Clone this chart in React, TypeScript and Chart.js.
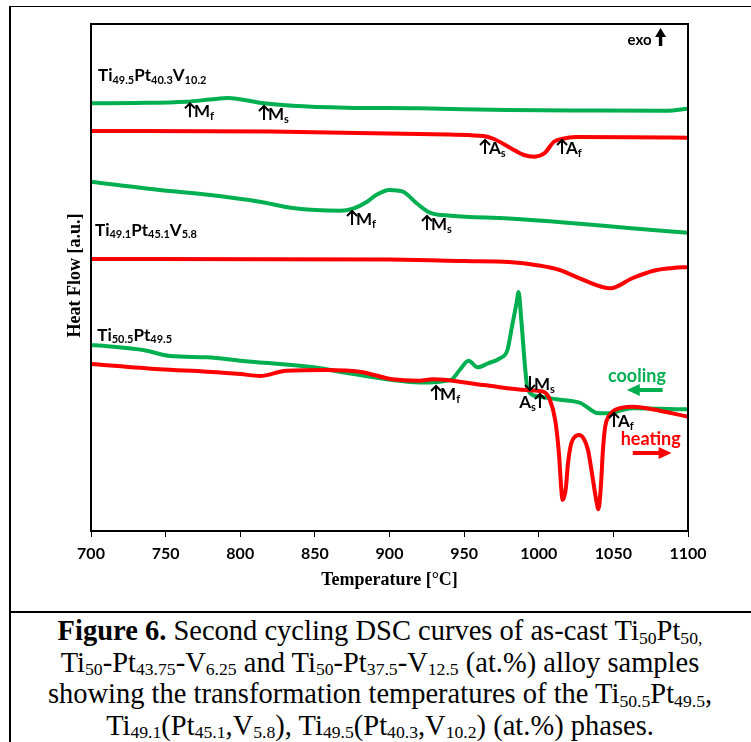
import React, { useEffect, useRef } from "react";
import { Chart, registerables } from "chart.js";
Chart.register(...registerables);

// ---- Data (Temperature °C, Heat flow a.u.) ----
const xTickStep = 50;
const xMin = 700;
const xMax = 1100;

// Ti49.5Pt40.3V10.2
const v10CoolT = [700, 730, 764, 780, 792, 805, 813, 835, 871, 920, 979, 1040, 1086, 1100];
const v10CoolHF = [427.7, 428, 429.3, 431.5, 433, 430.5, 428.3, 425.3, 423.3, 422.7, 421, 420.5, 420.3, 422.3];
const v10HeatT = [700, 820, 920, 963, 970, 981, 990, 997, 1004, 1010, 1016, 1025, 1060, 1100];
const v10HeatHF = [400, 399.5, 397, 395, 392, 383, 376, 374.3, 378, 389, 392.3, 394, 393.8, 393.3];

// Ti49.1Pt45.1V5.8
const v58CoolT = [700, 746, 780, 813, 835, 867, 876, 885, 891, 900, 909, 918, 927, 941, 980, 1019, 1060, 1100];
const v58CoolHF = [349.3, 341, 336, 329.3, 323, 320.3, 322.7, 329.3, 336, 341, 339.3, 328, 318.3, 315.3, 312.5, 308.3, 303, 298.3];
const v58HeatT = [700, 900, 950, 980, 1000, 1014, 1030, 1048, 1063, 1077, 1090, 1100];
const v58HeatHF = [272, 271.5, 270, 269, 265.5, 261, 251, 242.7, 253, 260.3, 263, 264];

// Ti50.5Pt49.5
const binCoolT = [700, 715, 735, 753, 778, 800, 849, 871, 902, 920, 941, 947, 953, 959, 966, 974, 979, 982, 985, 986.5, 988.3, 991, 992.6, 1001, 1012, 1028, 1032, 1039, 1048, 1056, 1063, 1100];
const binCoolHF = [186, 184.3, 181, 175, 173.7, 170.3, 163.7, 158.3, 151, 148.5, 151, 161, 170.3, 163.7, 167.7, 172.7, 181, 204, 227, 239, 211, 161, 141, 134.3, 131.7, 128, 124.3, 118, 117.7, 121, 122.7, 121.7];
const binHeatT = [700, 746, 778, 800, 813, 831, 858, 880, 902, 920, 929, 963, 992, 1003, 1007.5, 1011, 1013.5, 1015, 1016, 1018, 1019.6, 1021.8, 1024.8, 1026.8, 1030, 1033, 1036, 1038.5, 1040, 1041.6, 1043, 1044.5, 1046.7, 1051, 1063, 1076, 1100];
const binHeatHF = [167, 161.7, 159.3, 157, 155, 160.3, 161, 159.3, 151.7, 150.3, 151.7, 146, 141, 139.3, 131, 111, 78, 44, 31, 41, 67.7, 87.7, 95, 96, 92.7, 81, 54.3, 31, 21.7, 44.3, 81, 104.3, 114.3, 121, 124.3, 121.7, 114.3];

// Curve names (segments: text, subscript flag)
const curveNames: [string, number][][] = [
  [["Ti", 0], ["49.5", 1], ["Pt", 0], ["40.3", 1], ["V", 0], ["10.2", 1]],
  [["Ti", 0], ["49.1", 1], ["Pt", 0], ["45.1", 1], ["V", 0], ["5.8", 1]],
  [["Ti", 0], ["50.5", 1], ["Pt", 0], ["49.5", 1]],
];
const curveNameT = [704.7, 702.7, 704.2];
const curveNameHF = [450, 295.3, 190.3];

// Transformation markers
const markerLetter = ["M", "M", "A", "A", "M", "M", "M", "M", "A", "A"];
const markerSub = ["f", "s", "s", "f", "f", "s", "f", "s", "s", "f"];
const markerT = [766.3, 815.9, 964, 1015.6, 874.9, 925.1, 931.2, 994.1, 1000.8, 1050.4];
const markerHF = [413.7, 411, 377, 377, 306, 301, 131, 141, 123, 104];
const markerDir = ["up", "up", "up", "up", "up", "up", "up", "down", "up", "up"];
const markerTextSide = ["right", "right", "right", "right", "right", "right", "right", "right", "left", "right"];

// Direction legends
const exoT = 1059.5;
const exoHF = 486;
const coolingT = 1065.8;
const coolingHF = 155;
const coolArrowT = [1059, 1083];
const coolArrowHF = 141;
const heatingT = 1075;
const heatingHF = 92;
const heatArrowT = [1063, 1089];
const heatArrowHF = 78;

const GREEN = "#00B050";
const RED = "#FF0000";
const SANS = "Lato, 'Liberation Sans', sans-serif";
const SERIF = "'Liberation Serif', 'Times New Roman', serif";

function pts(t: number[], v: number[]) {
  return t.map((x, i) => ({ x, y: v[i] }));
}

function drawRich(ctx: CanvasRenderingContext2D, segs: [string, number][], x: number, baseline: number, main: number, sub: number) {
  let cx = x;
  ctx.textBaseline = "alphabetic";
  ctx.textAlign = "left";
  for (const [t, s] of segs) {
    ctx.font = `bold ${s ? sub : main}px ${SANS}`;
    ctx.fillText(t, cx, baseline + (s ? 2.5 : 0));
    cx += ctx.measureText(t).width;
  }
  return cx - x;
}

function measureRich(ctx: CanvasRenderingContext2D, segs: [string, number][], main: number, sub: number) {
  let w = 0;
  for (const [t, s] of segs) {
    ctx.font = `bold ${s ? sub : main}px ${SANS}`;
    w += ctx.measureText(t).width;
  }
  return w;
}

function arrowV(ctx: CanvasRenderingContext2D, x: number, yBottom: number, h: number, dir: string) {
  ctx.save();
  ctx.strokeStyle = "#000";
  ctx.lineWidth = 2;
  ctx.beginPath();
  ctx.moveTo(x, yBottom);
  ctx.lineTo(x, yBottom - h);
  if (dir === "up") {
    ctx.moveTo(x - 5, yBottom - h + 5);
    ctx.lineTo(x, yBottom - h);
    ctx.lineTo(x + 5, yBottom - h + 5);
  } else {
    ctx.moveTo(x - 5, yBottom - 5);
    ctx.lineTo(x, yBottom);
    ctx.lineTo(x + 5, yBottom - 5);
  }
  ctx.stroke();
  ctx.restore();
}

function fatArrowH(ctx: CanvasRenderingContext2D, x1: number, x2: number, y: number, color: string, headLeft: boolean) {
  ctx.save();
  ctx.fillStyle = color;
  const hw = 6, hl = 13, sw = 2;
  ctx.beginPath();
  if (headLeft) {
    ctx.moveTo(x1, y);
    ctx.lineTo(x1 + hl, y - hw);
    ctx.lineTo(x1 + hl, y - sw);
    ctx.lineTo(x2, y - sw);
    ctx.lineTo(x2, y + sw);
    ctx.lineTo(x1 + hl, y + sw);
    ctx.lineTo(x1 + hl, y + hw);
  } else {
    ctx.moveTo(x2, y);
    ctx.lineTo(x2 - hl, y - hw);
    ctx.lineTo(x2 - hl, y - sw);
    ctx.lineTo(x1, y - sw);
    ctx.lineTo(x1, y + sw);
    ctx.lineTo(x2 - hl, y + sw);
    ctx.lineTo(x2 - hl, y + hw);
  }
  ctx.closePath();
  ctx.fill();
  ctx.restore();
}

const annotationPlugin = {
  id: "dscAnnotations",
  afterDatasetsDraw(chart: any) {
    const ctx: CanvasRenderingContext2D = chart.ctx;
    const xs = chart.scales.x;
    const ys = chart.scales.y;
    const ca = chart.chartArea;
    ctx.save();
    // plot frame
    ctx.strokeStyle = "#000";
    ctx.lineWidth = 2;
    ctx.strokeRect(ca.left, ca.top, ca.right - ca.left, ca.bottom - ca.top);

    ctx.fillStyle = "#000";
    // curve names
    curveNames.forEach((segs, i) => {
      drawRich(ctx, segs, xs.getPixelForValue(curveNameT[i]), ys.getPixelForValue(curveNameHF[i]), 17, 11);
    });

    // markers
    markerT.forEach((t, i) => {
      const x = xs.getPixelForValue(t);
      const base = ys.getPixelForValue(markerHF[i]);
      arrowV(ctx, x, base, 14, markerDir[i]);
      const segs: [string, number][] = [[markerLetter[i], 0], [markerSub[i], 1]];
      if (markerTextSide[i] === "right") {
        drawRich(ctx, segs, x + 4, base, 17, 11);
      } else {
        const w = measureRich(ctx, segs, 17, 11);
        drawRich(ctx, segs, x - 4 - w, base, 17, 11);
      }
    });

    // exo
    const ex = xs.getPixelForValue(exoT);
    const ey = ys.getPixelForValue(exoHF);
    ctx.fillStyle = "#000";
    ctx.font = `bold 15px ${SANS}`;
    ctx.textAlign = "left";
    ctx.textBaseline = "alphabetic";
    ctx.fillText("exo", ex, ey);
    const ew = ctx.measureText("exo").width;
    const ax = ex + ew + 9;
    ctx.beginPath();
    ctx.moveTo(ax, ey - 17);
    ctx.lineTo(ax - 5.5, ey - 8);
    ctx.lineTo(ax - 1.7, ey - 8);
    ctx.lineTo(ax - 1.7, ey + 1);
    ctx.lineTo(ax + 1.7, ey + 1);
    ctx.lineTo(ax + 1.7, ey - 8);
    ctx.lineTo(ax + 5.5, ey - 8);
    ctx.closePath();
    ctx.fill();

    // cooling / heating
    ctx.font = `bold 18px ${SANS}`;
    ctx.textAlign = "center";
    ctx.textBaseline = "middle";
    ctx.fillStyle = GREEN;
    ctx.fillText("cooling", xs.getPixelForValue(coolingT), ys.getPixelForValue(coolingHF));
    fatArrowH(ctx, xs.getPixelForValue(coolArrowT[0]), xs.getPixelForValue(coolArrowT[1]), ys.getPixelForValue(coolArrowHF), GREEN, true);
    ctx.fillStyle = RED;
    ctx.fillText("heating", xs.getPixelForValue(heatingT), ys.getPixelForValue(heatingHF));
    fatArrowH(ctx, xs.getPixelForValue(heatArrowT[0]), xs.getPixelForValue(heatArrowT[1]), ys.getPixelForValue(heatArrowHF), RED, false);

    // y-axis title
    ctx.save();
    ctx.translate(ca.left - 16, (ca.top + ca.bottom) / 2 - 2);
    ctx.rotate(-Math.PI / 2);
    ctx.fillStyle = "#000";
    ctx.font = `bold 18px ${SERIF}`;
    ctx.textAlign = "center";
    ctx.textBaseline = "middle";
    ctx.fillText("Heat Flow [a.u.]", 0, 0);
    ctx.restore();

    ctx.restore();
  },
};

export default function App() {
  const ref = useRef<HTMLCanvasElement | null>(null);
  useEffect(() => {
    if (!ref.current) return;
    const line = (t: number[], v: number[], color: string) => ({
      data: pts(t, v),
      borderColor: color,
      backgroundColor: color,
      borderWidth: 4,
      pointRadius: 0,
      fill: false,
      cubicInterpolationMode: "monotone" as const,
      borderCapStyle: "round" as const,
      borderJoinStyle: "round" as const,
    });
    const chart = new Chart(ref.current, {
      type: "line",
      data: {
        datasets: [
          line(binHeatT, binHeatHF, RED),
          line(v58HeatT, v58HeatHF, RED),
          line(v10HeatT, v10HeatHF, RED),
          line(binCoolT, binCoolHF, GREEN),
          line(v58CoolT, v58CoolHF, GREEN),
          line(v10CoolT, v10CoolHF, GREEN),
        ],
      },
      options: {
        animation: false,
        responsive: false,
        maintainAspectRatio: false,
        layout: { padding: { left: 91, right: 63, top: 24, bottom: 0 } },
        plugins: { legend: { display: false }, tooltip: { enabled: false } },
        events: [],
        scales: {
          x: {
            type: "linear",
            min: xMin,
            max: xMax,
            position: "bottom",
            ticks: {
              stepSize: xTickStep,
              color: "#000",
              padding: 7,
              autoSkip: false,
              maxRotation: 0,
              font: { family: SANS, size: 16, weight: "bold" },
              callback: (v: any) => String(v),
            },
            grid: { display: true, drawOnChartArea: false, drawTicks: true, tickLength: 6, color: "#000", lineWidth: 1 },
            border: { display: false },
            title: {
              display: true,
              text: "Temperature [°C]",
              color: "#000",
              font: { family: SERIF, size: 18, weight: "bold" },
              padding: { top: 0, bottom: 21 },
            },
            afterFit: (s: any) => {
              s.height = 81;
            },
          },
          y: { type: "linear", display: false, min: 0, max: 507 },
        },
      },
      plugins: [annotationPlugin],
    });
    return () => chart.destroy();
  }, []);

  const subStyle: React.CSSProperties = { fontSize: "0.62em", verticalAlign: "baseline", position: "relative", top: "0.22em" };
  const S = (t: string) => <span style={subStyle}>{t}</span>;

  return (
    <div style={{ position: "fixed", left: 0, top: 0, width: 751, height: 742, overflow: "hidden", background: "#fff" }}>
      <div style={{ position: "absolute", left: 9, top: 6, width: 760, height: 760, borderTop: "1px solid #000", borderLeft: "2px solid #000" }} />
      <div style={{ position: "absolute", left: 9, top: 611, width: 760, height: 2, background: "#000" }} />
      <canvas ref={ref} width={751} height={612} style={{ position: "absolute", left: 0, top: 0, width: 751, height: 612 }} />
      <div
        style={{
          position: "absolute",
          left: 9,
          top: 617,
          width: 742,
          textAlign: "center",
          fontFamily: SERIF,
          fontSize: 28.5,
          lineHeight: "28.5px",
          color: "#000",
          whiteSpace: "nowrap",
        }}
      >
        <b>Figure 6.</b> Second cycling DSC curves of as-cast Ti{S("50")}Pt{S("50,")}
        <br />
        Ti{S("50")}-Pt{S("43.75")}-V{S("6.25")} and Ti{S("50")}-Pt{S("37.5")}-V{S("12.5")} (at.%) alloy samples
        <br />
        showing the transformation temperatures of the Ti{S("50.5")}Pt{S("49.5")},
        <br />
        Ti{S("49.1")}(Pt{S("45.1")},V{S("5.8")}), Ti{S("49.5")}(Pt{S("40.3")},V{S("10.2")}) (at.%) phases.
      </div>
    </div>
  );
}
